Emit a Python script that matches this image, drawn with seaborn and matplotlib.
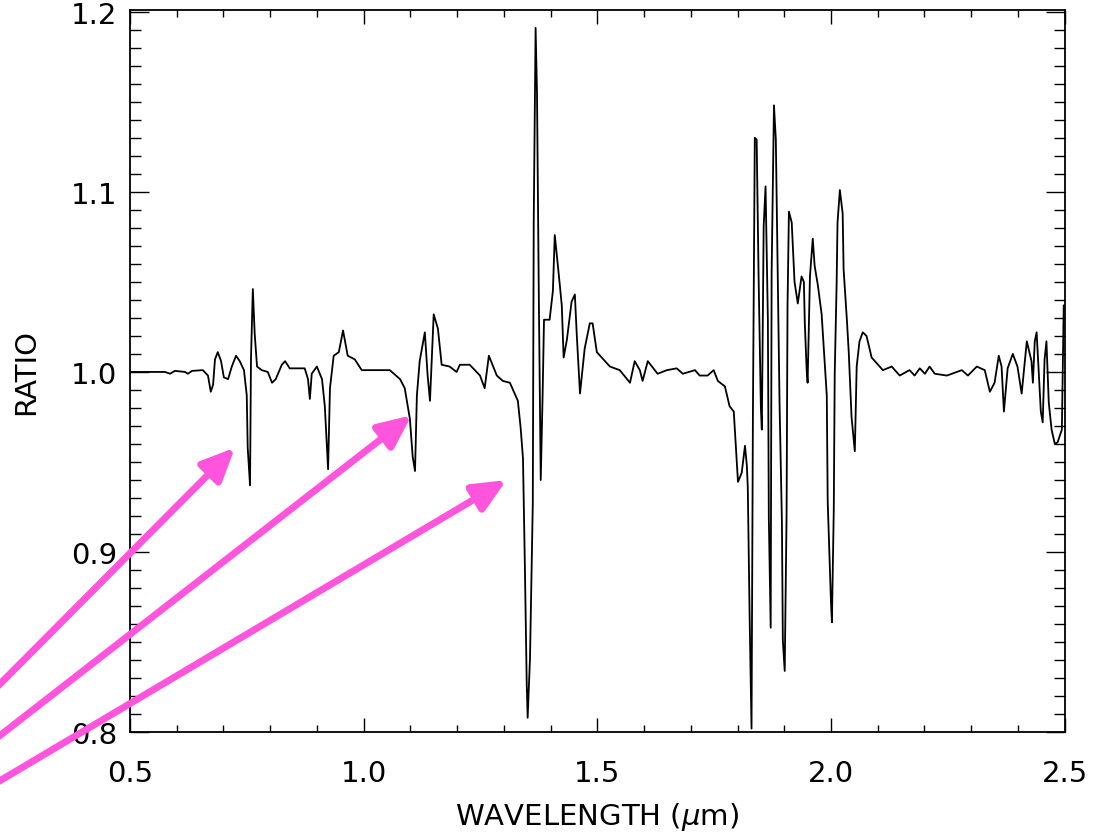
import numpy as np
import pandas as pd
import seaborn as sns
import matplotlib
matplotlib.use("Agg")
import matplotlib.pyplot as plt

# spectrum (wavelength in um, ratio)
wavelength = [
    0.500, 0.543, 0.575, 0.586, 0.596, 0.618, 0.624, 0.633, 0.656, 0.667,
    0.673, 0.678, 0.682, 0.688, 0.695, 0.701, 0.710, 0.718, 0.727, 0.735,
    0.744, 0.750, 0.752, 0.757, 0.759, 0.763, 0.767, 0.772, 0.782, 0.795,
    0.804, 0.812, 0.825, 0.832, 0.842, 0.874, 0.881, 0.885, 0.889, 0.900,
    0.911, 0.917, 0.924, 0.928, 0.936, 0.947, 0.956, 0.966, 0.981, 0.996,
    1.056, 1.078, 1.088, 1.099, 1.105, 1.110, 1.114, 1.120, 1.131, 1.137,
    1.142, 1.146, 1.150, 1.159, 1.167, 1.184, 1.199, 1.206, 1.227, 1.249,
    1.259, 1.268, 1.285, 1.298, 1.313, 1.330, 1.336, 1.341, 1.345, 1.349,
    1.351, 1.356, 1.362, 1.364, 1.368, 1.371, 1.375, 1.379, 1.383, 1.386,
    1.398, 1.405, 1.409, 1.418, 1.424, 1.428, 1.435, 1.445, 1.452, 1.456,
    1.463, 1.473, 1.484, 1.490, 1.499, 1.527, 1.548, 1.570, 1.580, 1.591,
    1.597, 1.608, 1.629, 1.649, 1.670, 1.683, 1.709, 1.719, 1.736, 1.749,
    1.758, 1.773, 1.783, 1.792, 1.796, 1.801, 1.809, 1.816, 1.820, 1.822,
    1.826, 1.830, 1.833, 1.837, 1.841, 1.845, 1.850, 1.852, 1.854, 1.856,
    1.860, 1.865, 1.867, 1.871, 1.873, 1.878, 1.882, 1.886, 1.890, 1.895,
    1.897, 1.901, 1.905, 1.907, 1.910, 1.916, 1.922, 1.929, 1.937, 1.942,
    1.944, 1.948, 1.950, 1.955, 1.961, 1.965, 1.972, 1.980, 1.987, 1.991,
    1.993, 2.000, 2.002, 2.006, 2.008, 2.012, 2.014, 2.019, 2.025, 2.027,
    2.034, 2.038, 2.044, 2.051, 2.055, 2.061, 2.068, 2.076, 2.087, 2.111,
    2.130, 2.147, 2.168, 2.179, 2.190, 2.201, 2.211, 2.222, 2.248, 2.280,
    2.293, 2.312, 2.329, 2.340, 2.350, 2.359, 2.365, 2.370, 2.378, 2.389,
    2.399, 2.408, 2.419, 2.429, 2.432, 2.436, 2.440, 2.444, 2.449, 2.453,
    2.457, 2.461, 2.466, 2.472, 2.479, 2.485, 2.494, 2.496, 2.498,
]
ratio = [
    1.000, 1.000, 1.000, 0.999, 1.0006, 1.000, 0.999, 1.0006, 1.001, 0.998,
    0.989, 0.993, 1.007, 1.011, 1.006, 0.997, 0.996, 1.003, 1.009, 1.006,
    1.001, 0.987, 0.958, 0.937, 1.007, 1.046, 1.021, 1.003, 1.001, 1.000,
    0.994, 0.996, 1.004, 1.006, 1.002, 1.002, 0.996, 0.985, 0.999, 1.003,
    0.996, 0.981, 0.946, 0.991, 1.009, 1.011, 1.023, 1.009, 1.007, 1.001,
    1.001, 0.996, 0.991, 0.974, 0.953, 0.945, 0.987, 1.006, 1.022, 0.998,
    0.984, 1.008, 1.032, 1.024, 1.004, 1.003, 1.000, 1.004, 1.004, 0.998,
    0.991, 1.009, 0.998, 0.995, 0.994, 0.984, 0.969, 0.952, 0.893, 0.827,
    0.808, 0.841, 0.927, 1.084, 1.191, 1.155, 1.039, 0.940, 0.987, 1.029,
    1.029, 1.045, 1.076, 1.053, 1.037, 1.008, 1.018, 1.039, 1.043, 1.021,
    0.988, 1.013, 1.027, 1.027, 1.011, 1.003, 1.001, 0.994, 1.006, 1.001,
    0.995, 1.006, 0.999, 1.001, 1.002, 0.999, 1.001, 0.998, 0.998, 1.001,
    0.995, 0.992, 0.981, 0.978, 0.961, 0.939, 0.944, 0.959, 0.948, 0.936,
    0.863, 0.802, 0.978, 1.130, 1.129, 1.055, 0.980, 0.968, 1.022, 1.081,
    1.103, 1.029, 0.919, 0.858, 1.055, 1.148, 1.129, 1.055, 0.982, 0.917,
    0.851, 0.834, 0.921, 1.036, 1.089, 1.083, 1.050, 1.038, 1.053, 1.050,
    1.027, 1.001, 0.994, 1.053, 1.074, 1.059, 1.048, 1.032, 1.003, 0.987,
    0.928, 0.872, 0.861, 0.924, 0.999, 1.048, 1.083, 1.101, 1.088, 1.057,
    1.029, 1.011, 0.975, 0.956, 1.003, 1.017, 1.022, 1.020, 1.008, 1.001,
    1.003, 0.998, 1.001, 0.998, 1.002, 0.999, 1.003, 0.999, 0.998, 1.001,
    0.998, 1.003, 1.001, 0.989, 0.994, 1.009, 1.003, 0.978, 1.002, 1.010,
    1.003, 0.988, 1.017, 1.006, 0.994, 1.017, 1.022, 1.002, 0.978, 0.972,
    1.007, 1.017, 0.983, 0.968, 0.960, 0.961, 0.968, 1.002, 1.037,
]

# arrow tips (data coords) and tails (figure fraction, at the left edge)
arrow_tips = [(0.725, 0.958), (1.103, 0.976), (1.306, 0.940)]
arrow_tails = [(-0.002, 0.179), (-0.002, 0.118), (-0.002, 0.0645)]
arrow_color = "#ff55dd"

sns.set_theme(style="ticks")
plt.rcParams["font.family"] = ["DejaVu Sans"]
plt.rcParams["mathtext.fontset"] = "dejavusans"

df = pd.DataFrame({"wavelength": wavelength, "ratio": ratio})

fig = plt.figure(figsize=(11.01, 8.37), dpi=100)
ax = fig.add_axes([0.118, 0.124, 0.849, 0.863])
sns.lineplot(data=df, x="wavelength", y="ratio", ax=ax, sort=False,
             estimator=None, color="black", lw=1.3)

ax.set_xlim(0.5, 2.5)
ax.set_ylim(0.8, 1.201)
ax.set_xticks(np.arange(0.5, 2.51, 0.5))
ax.set_xticks(np.arange(0.5, 2.51, 0.1), minor=True)
ax.set_yticks(np.arange(0.8, 1.201, 0.1))
ax.set_yticks(np.arange(0.8, 1.201, 0.01), minor=True)
ax.set_xticklabels(["%.1f" % v for v in np.arange(0.5, 2.51, 0.5)])
ax.set_yticklabels(["%.1f" % v for v in np.arange(0.8, 1.201, 0.1)])

ax.tick_params(which="both", direction="in", top=True, right=True,
               color="black", labelcolor="black", width=1.0)
ax.tick_params(axis="x", which="major", length=10, pad=19, labelsize=21)
ax.tick_params(axis="x", which="minor", length=5)
ax.tick_params(axis="y", which="major", length=14, pad=9, labelsize=21)
ax.tick_params(axis="y", which="minor", length=8)
for s in ax.spines.values():
    s.set_linewidth(1.3)
    s.set_color("black")

ax.set_xlabel(r"WAVELENGTH ($\mu$m)", fontsize=21, color="black", labelpad=10)
ax.set_ylabel("RATIO", fontsize=21, color="black", labelpad=22)

for tip, tail in zip(arrow_tips, arrow_tails):
    ax.annotate("", xy=tip, xycoords="data", xytext=tail,
                textcoords="figure fraction", annotation_clip=False,
                arrowprops=dict(arrowstyle="-|>,head_length=1.0,head_width=0.45",
                                mutation_scale=20, color=arrow_color, lw=5,
                                shrinkA=0, shrinkB=0))

fig.savefig("out.png", dpi=100)
